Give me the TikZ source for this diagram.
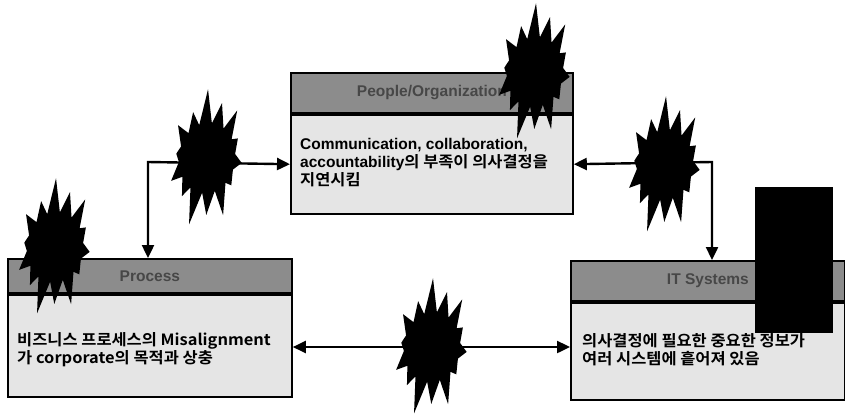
\documentclass[tikz,border=0pt]{standalone}
\usepackage{fontspec}
\setmainfont{Liberation Sans}
\newfontfamily\kr{Noto Sans CJK KR}[FakeStretch=1.06, BoldFont={Noto Sans CJK KR Bold}, BoldFeatures={FakeStretch=1.06}]
\usetikzlibrary{arrows.meta}
\tikzset{
  hdr/.style={draw=black, line width=1.8pt, fill=black!45, text=black!72,
    font=\bfseries\fontsize{15.5}{17}\selectfont, inner sep=0pt, anchor=north west},
  bodybox/.style={draw=black, line width=1.8pt, fill=black!10, inner sep=0pt, anchor=north west},
  txt/.style={align=left, anchor=west, inner sep=0pt,
    font=\bfseries\fontsize{15.5}{18}\selectfont},
  link/.style={line width=2.4pt, {Triangle[length=13pt,width=12pt]}-{Triangle[length=13pt,width=12pt]}},
  burst/.pic={\fill[black] (0:35 and 61) -- (13:28 and 35) -- (26:31 and 54) -- (39:28 and 35)
    -- (51:38 and 70) -- (64:28 and 35) -- (77:32 and 58) -- (90:28 and 35)
    -- (103:38 and 70) -- (116:28 and 35) -- (129:31 and 53) -- (141:28 and 35)
    -- (154:36 and 63) -- (167:28 and 35) -- (180:31 and 54) -- (193:28 and 35)
    -- (206:37 and 65) -- (219:28 and 35) -- (231:32 and 56) -- (244:28 and 35)
    -- (257:38 and 70) -- (270:28 and 35) -- (283:32 and 58) -- (296:28 and 35)
    -- (309:37 and 66) -- (321:28 and 35) -- (334:31 and 54) -- (347:28 and 35) -- cycle;}
}
\begin{document}
\begin{tikzpicture}[x=1pt,y=-1pt]
\path[use as bounding box] (0,0) rectangle (845,418);
% top box
\node[hdr, minimum width=282pt, minimum height=40pt] (orgH) at (290,72) {People/Organization};
\node[bodybox, minimum width=282pt, minimum height=99pt] (orgB) at (orgH.south west) {};
\node[txt] (orgT) at ([xshift=10pt,yshift=2pt]orgB.west)
  {Communication, collaboration,\\accountability\kr{의 부족이 의사결정을}\\\kr{지연시킴}};
% left box
\node[hdr, minimum width=284pt, minimum height=34pt] (procH) at (7,258) {Process};
\node[bodybox, minimum width=284pt, minimum height=102pt] (procB) at (procH.south west) {};
\node[txt] (procT) at ([xshift=10pt,yshift=-4pt]procB.west)
  {\kr{비즈니스 프로세스의} Misalignment\\\kr{가} corporate\kr{의 목적과 상충}};
% right box
\node[hdr, minimum width=274pt, minimum height=40pt] (itH) at (570,260) {IT Systems};
\node[bodybox, minimum width=274pt, minimum height=97pt] (itB) at (itH.south west) {};
\node[txt] (itT) at ([xshift=12pt,yshift=2pt]itB.west)
  {\kr{의사결정에 필요한 중요한 정보가}\\\kr{여러 시스템에 흩어져 있음}};
% connectors
\coordinate (cl) at (148,162);
\coordinate (cr) at (712,162);
\coordinate (cm) at (430,347);
\draw[link] (orgB.west) -- (cl) -- (procH.north -| cl);
\draw[link] (orgB.east) -- (cr) -- (itH.north -| cr);
\draw[link] (procB.east |- cm) -- (itB.west |- cm);
% bursts
\pic[rotate=-8] at (207,158) {burst};
\pic[rotate=-8] at (535,72) {burst};
\pic[rotate=-8] at (665,165) {burst};
\pic[rotate=-8] at (55,247) {burst};
\pic[rotate=-8] at (432,347) {burst};
% mask
\node[fill=black, minimum width=78pt, minimum height=146pt, inner sep=0pt, anchor=north west] (mask) at (755,187) {};
\end{tikzpicture}
\end{document}
